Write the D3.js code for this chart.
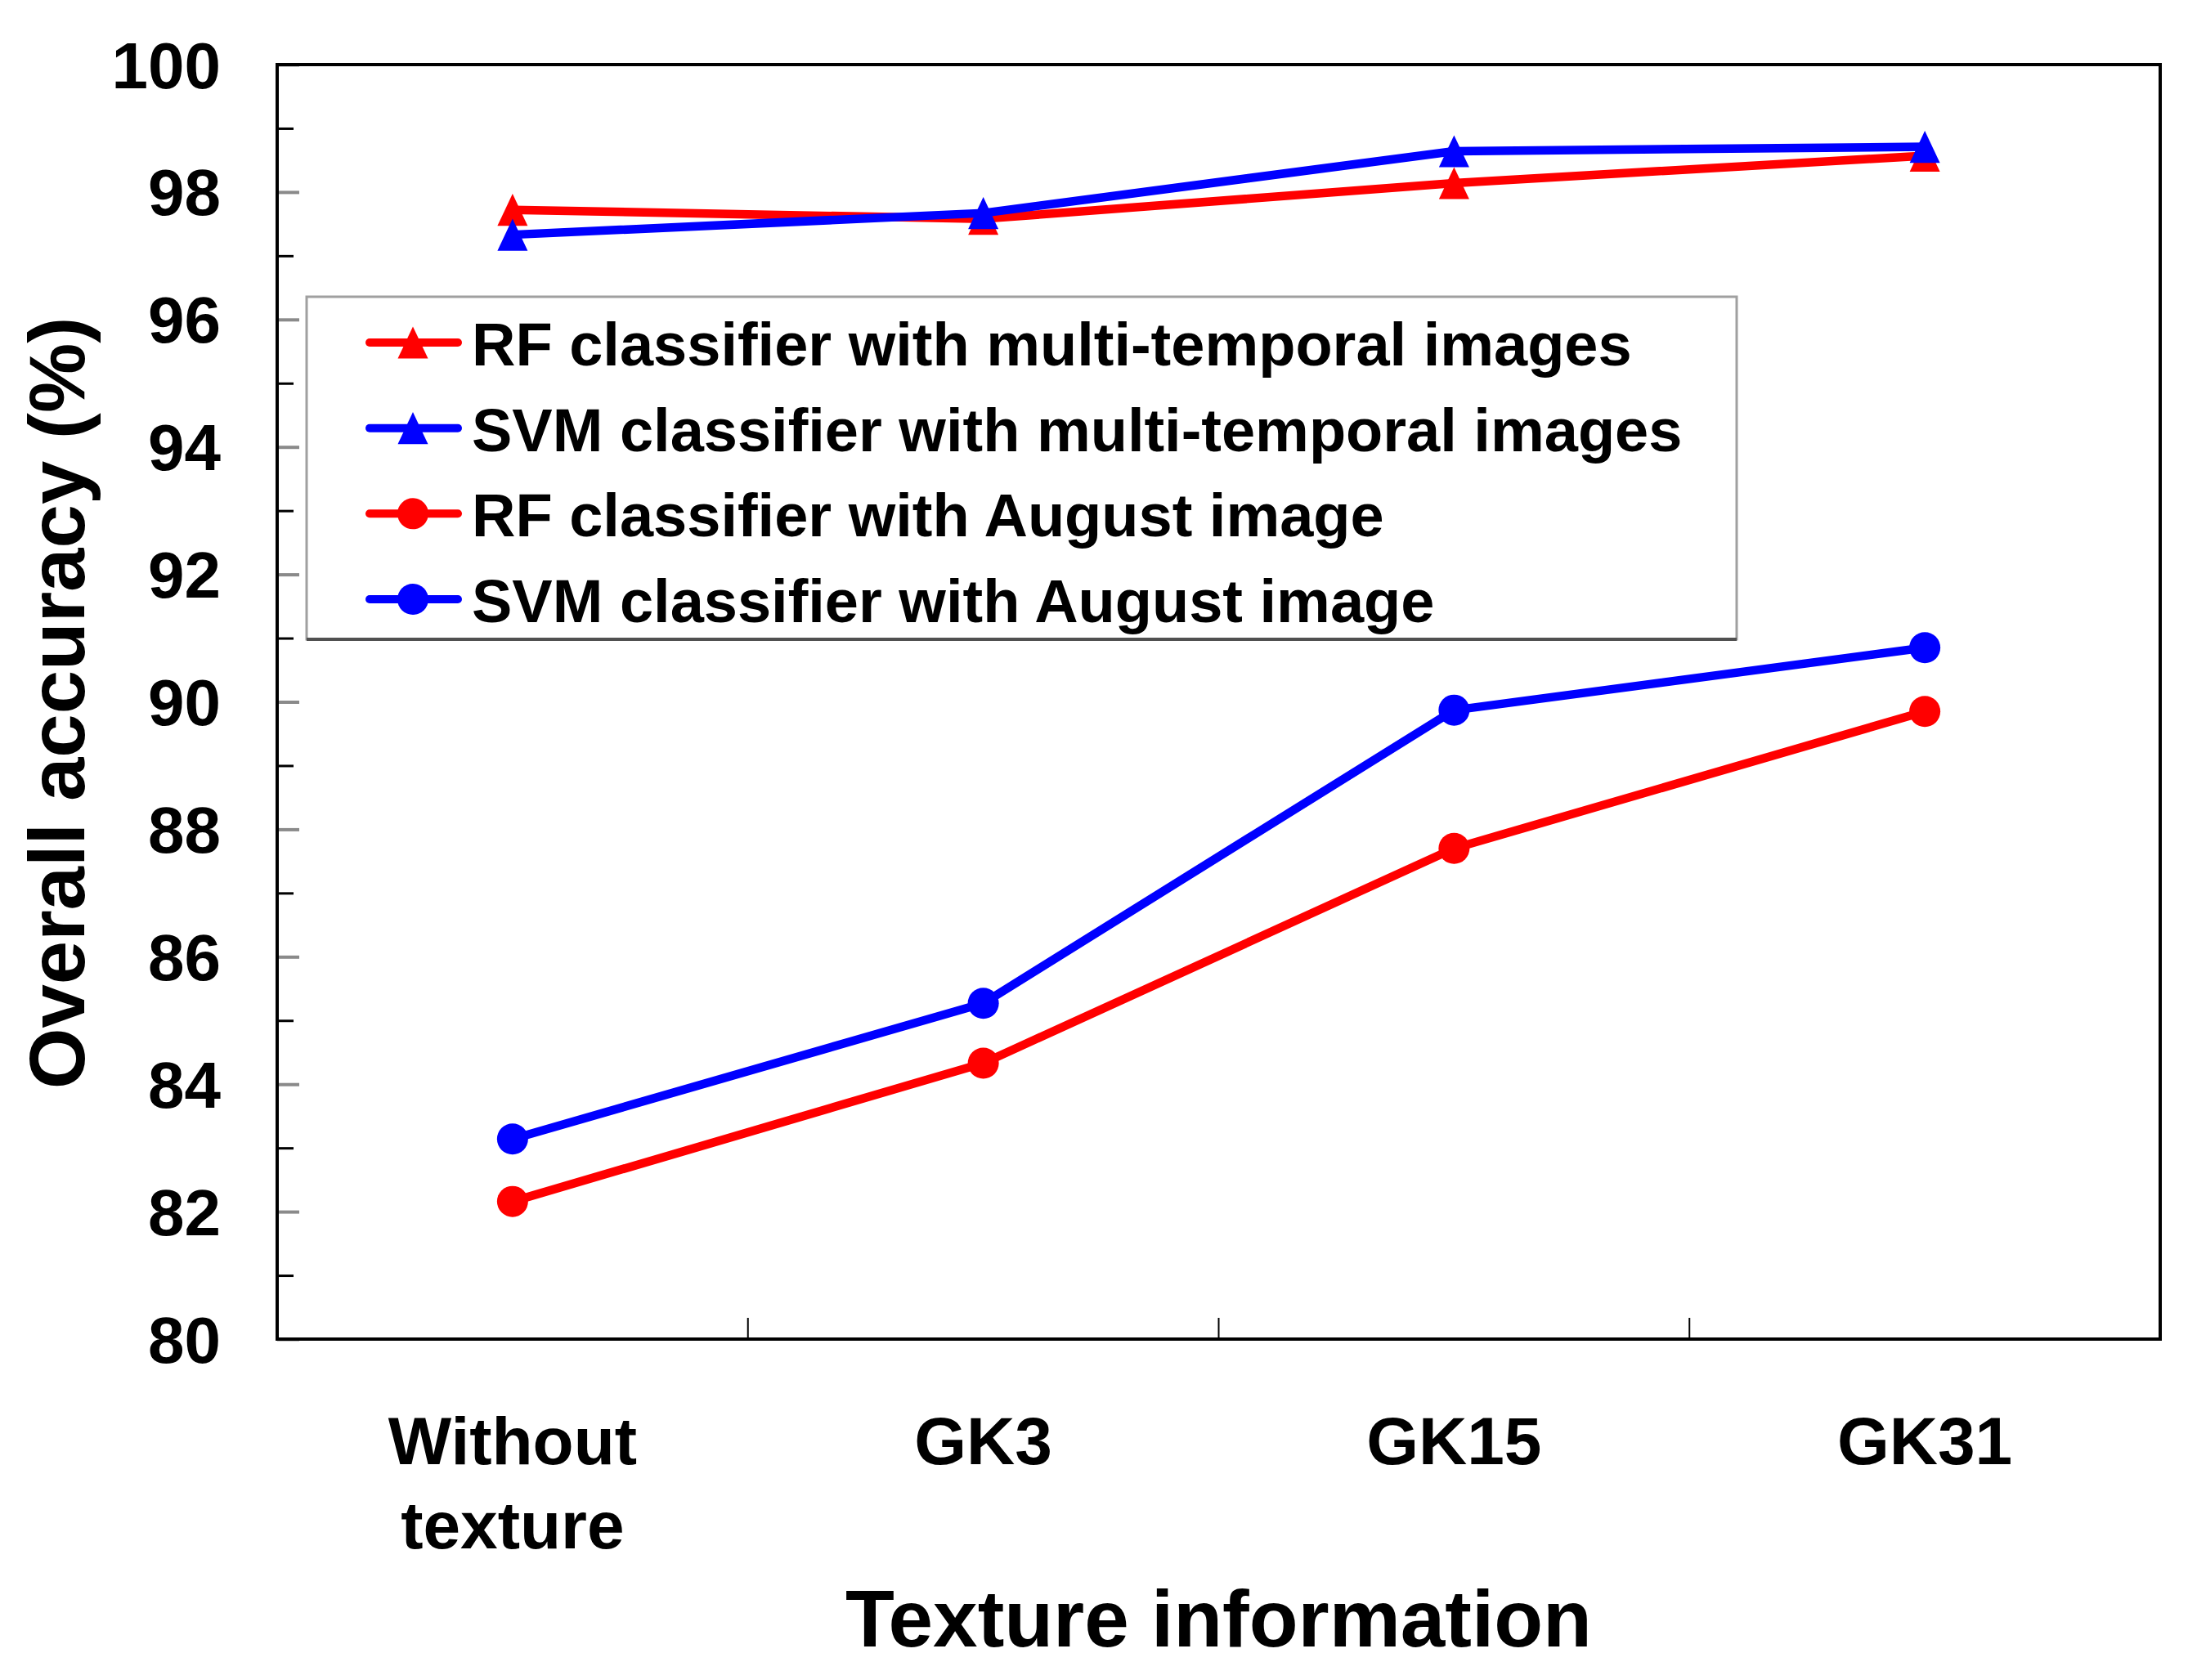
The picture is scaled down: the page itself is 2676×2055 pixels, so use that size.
<!DOCTYPE html>
<html>
<head>
<meta charset="utf-8">
<script src="https://cdn.jsdelivr.net/npm/d3@7"></script>
<style>
  html, body { margin: 0; padding: 0; background: #fff; }
  svg { display: block; }
  text { font-family: "Liberation Sans", Arial, sans-serif; font-weight: bold; fill: #000; }
</style>
</head>
<body>
<svg id="chart" width="2676" height="2055"></svg>
<script>
// ---- data ----
const categories = ["Without texture", "GK3", "GK15", "GK31"];
const categoryLines = [["Without", "texture"], ["GK3"], ["GK15"], ["GK31"]];
const rfMulti  = [97.72, 97.58, 98.14, 98.57];
const svmMulti = [97.33, 97.67, 98.64, 98.71];
const rfAug    = [82.16, 84.33, 87.70, 89.85];
const svmAug   = [83.14, 85.27, 89.87, 90.85];
const seriesNames = [
  "RF classifier with multi-temporal images",
  "SVM classifier with multi-temporal images",
  "RF classifier with August image",
  "SVM classifier with August image"
];
const yMajorTicks = [80, 82, 84, 86, 88, 90, 92, 94, 96, 98, 100];
const yMinorTicks = [81, 83, 85, 87, 89, 91, 93, 95, 97, 99];
const xTitle = "Texture information";
const yTitle = "Overall accuracy (%)";

// ---- layout ----
const L = 339, R = 2642, T = 79, B = 1638;
const RED = "#ff0000", BLUE = "#0000ff";

const svg = d3.select("#chart");

const x = d3.scaleBand().domain(categories).range([L, R]).paddingInner(0).paddingOuter(0);
const y = d3.scaleLinear().domain([80, 100]).range([B, T]);
const cx = c => x(c) + x.bandwidth() / 2;

// triangle symbol (bbox-centred)
const triType = {
  draw(ctx, size) {
    const w = Math.sqrt(size) * 1.0, h = w * 1.06;
    ctx.moveTo(0, -h / 2);
    ctx.lineTo(w / 2, h / 2);
    ctx.lineTo(-w / 2, h / 2);
    ctx.closePath();
  }
};
const triPath = d3.symbol().type(triType).size(37 * 37)();
const circPath = d3.symbol().type(d3.symbolCircle).size(Math.PI * 19 * 19)();

// ---- axes ----
const yAxisMajor = d3.axisLeft(y).tickValues(yMajorTicks).tickSize(-27).tickPadding(69).tickFormat(d3.format("d"));
const gy = svg.append("g").attr("transform", `translate(${L},0)`).call(yAxisMajor);
gy.select(".domain").remove();
gy.selectAll(".tick line").attr("stroke", "#8a8a8a").attr("stroke-width", 4);
gy.selectAll(".tick text").attr("font-size", 80).attr("dy", "0.35em")
  .style("font-family", '"Liberation Sans", Arial, sans-serif').style("font-weight", "bold").attr("fill", "#000");

const yAxisMinor = d3.axisLeft(y).tickValues(yMinorTicks).tickSize(-20).tickFormat("");
const gym = svg.append("g").attr("transform", `translate(${L},0)`).call(yAxisMinor);
gym.select(".domain").remove();
gym.selectAll(".tick line").attr("stroke", "#000").attr("stroke-width", 3);

const boundaries = categories.slice(1);
svg.append("g").selectAll("line").data(boundaries).join("line")
  .attr("x1", d => x(d)).attr("x2", d => x(d))
  .attr("y1", B).attr("y2", B - 26)
  .attr("stroke", "#000").attr("stroke-width", 2);

const xl = svg.append("g").selectAll("text").data(categories).join("text")
  .attr("text-anchor", "middle")
  .attr("font-size", 82)
  .attr("x", d => cx(d))
  .attr("y", 1791);
xl.each(function(d, i) {
  const t = d3.select(this);
  categoryLines[i].forEach((line, j) => {
    t.append("tspan").attr("x", cx(d)).attr("dy", j === 0 ? 0 : 103).text(line);
  });
});

svg.append("rect").attr("x", L).attr("y", T).attr("width", R - L).attr("height", B - T)
  .attr("fill", "none").attr("stroke", "#000").attr("stroke-width", 4);

svg.append("text").attr("x", (L + R) / 2).attr("y", 2014).attr("text-anchor", "middle")
  .attr("font-size", 98).text(xTitle);
svg.append("text").attr("transform", `translate(103,860) rotate(-90)`).attr("text-anchor", "middle")
  .attr("font-size", 96).text(yTitle);

// ---- series ----
const series = [
  { name: seriesNames[2], values: rfAug,    color: RED,  marker: circPath },
  { name: seriesNames[3], values: svmAug,   color: BLUE, marker: circPath },
  { name: seriesNames[0], values: rfMulti,  color: RED,  marker: triPath },
  { name: seriesNames[1], values: svmMulti, color: BLUE, marker: triPath }
];
const line = d3.line().x((d, i) => cx(categories[i])).y(d => y(d));

series.forEach(s => {
  const g = svg.append("g");
  g.append("path").datum(s.values).attr("d", line)
    .attr("fill", "none").attr("stroke", s.color).attr("stroke-width", 10.5).attr("stroke-linejoin", "round");
  g.selectAll("path.m").data(s.values).join("path").attr("class", "m")
    .attr("d", s.marker)
    .attr("transform", (d, i) => `translate(${cx(categories[i])},${y(d)})`)
    .attr("fill", s.color);
});

// ---- legend ----
const legendItems = [
  { name: seriesNames[0], color: RED,  marker: triPath },
  { name: seriesNames[1], color: BLUE, marker: triPath },
  { name: seriesNames[2], color: RED,  marker: circPath },
  { name: seriesNames[3], color: BLUE, marker: circPath }
];
const lg = svg.append("g");
lg.append("rect").attr("x", 375).attr("y", 363).attr("width", 2124 - 375).attr("height", 782 - 363)
  .attr("fill", "#fff").attr("stroke", "#a0a0a0").attr("stroke-width", 3);
lg.append("line").attr("x1", 375).attr("x2", 2124).attr("y1", 782).attr("y2", 782)
  .attr("stroke", "#505050").attr("stroke-width", 4);
const legendY = d3.scaleLinear().domain([0, 3]).range([419, 733]);
legendItems.forEach((it, i) => {
  const yy = legendY(i);
  lg.append("line").attr("x1", 452).attr("x2", 560).attr("y1", yy).attr("y2", yy)
    .attr("stroke", it.color).attr("stroke-width", 10).attr("stroke-linecap", "round");
  lg.append("path").attr("d", it.marker).attr("transform", `translate(505,${yy})`).attr("fill", it.color);
  lg.append("text").attr("x", 577).attr("y", yy + 28).attr("font-size", 74).text(it.name);
});
</script>
</body>
</html>
